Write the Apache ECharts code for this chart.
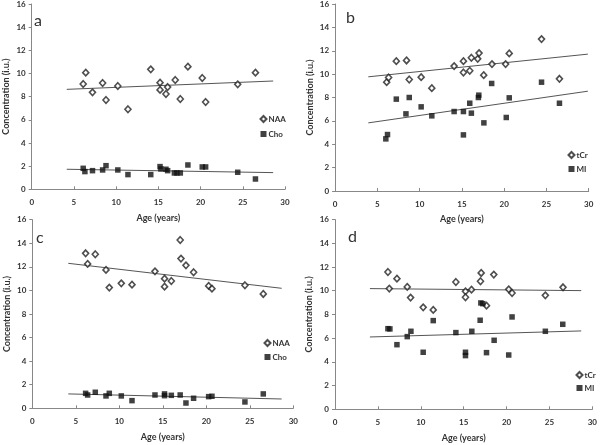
<!DOCTYPE html>
<html>
<head>
<meta charset="utf-8">
<script src="https://cdn.jsdelivr.net/npm/echarts@6/dist/echarts.min.js"></script>
<style>html,body{margin:0;padding:0;background:#fff;}#c{width:600px;height:445px;}</style>
</head>
<body>
<div id="c"></div>
<script>
// ---- Data ----
const xTicks = [0, 5, 10, 15, 20, 25, 30];
const yTicks = [0, 2, 4, 6, 8, 10, 12, 14, 16];

// Panel a
const ageA_NAA = [6.1,6.4,7.2,8.4,8.8,10.2,11.4,14.1,15.2,15.2,15.9,16.1,17.0,17.6,18.5,20.2,20.6,24.4,26.5];
const naaA     = [9.09,10.07,8.37,9.18,7.71,8.92,6.91,10.36,9.21,8.58,8.23,8.83,9.44,7.80,10.59,9.61,7.54,9.06,10.07];
const ageA_Cho = [6.1,6.3,7.2,8.4,8.8,10.2,11.4,14.1,15.2,15.3,15.9,16.1,16.9,17.2,17.6,18.5,20.2,20.6,24.4,26.5];
const choA     = [1.81,1.53,1.61,1.67,2.04,1.67,1.27,1.27,1.96,1.76,1.73,1.61,1.41,1.41,1.41,2.10,1.93,1.93,1.47,0.89];
const trendA_NAA = [[4.15, 8.63], [28.6, 9.35]];
const trendA_Cho = [[4.15, 1.73], [28.6, 1.44]];

// Panel b
const ageB_tCr = [6.1,6.33,7.24,8.45,8.77,10.18,11.44,14.08,15.18,15.18,15.93,16.12,16.87,17.03,17.58,18.56,20.17,20.6,24.42,26.54];
const tcrB     = [9.31,9.71,11.11,11.17,9.54,9.74,8.80,10.69,10.14,11.11,10.29,11.40,11.31,11.80,9.91,10.86,10.86,11.77,13.0,9.60];
const ageB_MI  = [6.0,6.2,7.24,8.38,8.77,10.18,11.44,14.08,15.18,15.18,15.93,16.12,16.95,17.0,17.6,18.52,20.25,20.6,24.42,26.54];
const miB      = [4.46,4.83,7.86,6.60,8.00,7.20,6.43,6.80,6.80,4.80,7.51,6.66,8.00,8.20,5.83,9.20,6.29,7.97,9.31,7.51];
const trendB_tCr = [[3.93, 9.77], [29.9, 11.71]];
const trendB_MI  = [[3.93, 5.83], [29.9, 8.54]];

// Panel c
const ageC_NAA = [6.13,6.36,7.24,8.47,8.85,10.23,11.46,14.1,15.2,15.2,15.98,17.0,17.09,17.66,18.54,20.27,20.65,24.44,26.55];
const naaC     = [13.15,12.25,13.07,11.74,10.24,10.60,10.49,11.62,11.0,10.32,10.80,14.28,12.70,12.13,11.54,10.38,10.15,10.44,9.70];
const ageC_Cho = [6.13,6.36,7.24,8.47,8.85,10.23,11.46,14.1,15.2,15.2,15.98,17.0,17.66,18.54,20.27,20.65,24.44,26.55];
const choC     = [1.27,1.13,1.36,1.05,1.27,1.05,0.65,1.13,1.22,1.07,1.10,1.13,0.45,0.85,0.99,1.02,0.54,1.22];
const trendC_NAA = [[4.14, 12.3], [28.66, 10.18]];
const trendC_Cho = [[4.14, 1.22], [28.66, 0.79]];

// Panel d
const ageD_tCr = [6.17,6.33,7.22,8.42,8.81,10.28,11.45,14.09,15.21,15.21,15.91,16.96,17.04,17.66,18.51,20.25,20.64,24.52,26.58];
const tcrD     = [11.58,10.18,11.02,10.32,9.42,8.60,8.38,10.74,9.95,9.45,10.09,10.80,11.50,8.74,11.36,10.12,9.81,9.61,10.29];
const ageD_MI  = [6.17,6.4,7.22,8.42,8.85,10.28,11.45,14.09,15.21,15.21,15.95,16.92,17.0,17.23,17.66,18.55,20.25,20.64,24.52,26.55];
const miD      = [6.80,6.78,5.45,6.13,6.58,4.81,7.48,6.47,4.81,4.53,6.58,7.51,8.97,8.91,4.78,5.82,4.58,7.79,6.58,7.17];
const trendD_tCr = [[4.07, 10.18], [28.7, 10.01]];
const trendD_MI  = [[4.07, 6.10], [28.7, 6.61]];

const panelLetters = ['a', 'b', 'c', 'd'];
const legendNames = [['NAA', 'Cho'], ['tCr', 'MI'], ['NAA', 'Cho'], ['tCr', 'MI']];

// ---- Layout ----
const FONT = 'Lato, "Liberation Sans", sans-serif';
const grids = [
  {left: 31.7, top: 4,     width: 253.3, height: 185.3},
  {left: 335.1, top: 4,    width: 253.6, height: 187},
  {left: 32.3, top: 219.7, width: 261,   height: 188.6},
  {left: 335,  top: 219.6, width: 257.7, height: 189.7}
];
const letterPos = [[34, 13], [346, 9.5], [36, 230], [348, 228.5]];
const legendPos = [[259.5, 115, 7], [567.5, 151, 6], [263.5, 339, 6], [575.5, 371, 5]];

const zip = (xs, ys) => xs.map((x, i) => [x, ys[i]]);

function xAxis(i) {
  return {
    gridIndex: i, type: 'value', min: xTicks[0], max: xTicks[xTicks.length - 1], interval: 5,
    name: 'Age (years)', nameLocation: 'middle', nameGap: 24,
    nameTextStyle: {fontFamily: FONT, fontSize: 9, fontWeight: 'bold', color: '#333'},
    axisLine: {lineStyle: {color: '#888', width: 1}},
    axisTick: {show: true, inside: true, length: 3, lineStyle: {color: '#888'}},
    axisLabel: {fontFamily: FONT, fontSize: 8, fontWeight: 'bold', color: '#333', margin: 9},
    splitLine: {show: false}
  };
}
function yAxis(i) {
  return {
    gridIndex: i, type: 'value', min: yTicks[0], max: yTicks[yTicks.length - 1], interval: 2,
    name: 'Concentration (i.u.)', nameLocation: 'middle', nameGap: 21,
    nameTextStyle: {fontFamily: FONT, fontSize: 9, fontWeight: 'bold', color: '#333'},
    axisLine: {show: true, lineStyle: {color: '#888', width: 1}},
    axisTick: {show: true, inside: false, length: 3, lineStyle: {color: '#888'}},
    axisLabel: {fontFamily: FONT, fontSize: 8, fontWeight: 'bold', color: '#333', margin: 6},
    splitLine: {show: false}
  };
}

const openStyle = {symbol: 'diamond', symbolSize: [6, 6.5], itemStyle: {color: '#fff', borderColor: '#222', borderWidth: 1.6}};
const fillStyle = {symbol: 'rect', symbolSize: 5.5, itemStyle: {color: '#111', borderWidth: 0}};

function scatter(name, i, data, style) {
  return Object.assign({type: 'scatter', name, xAxisIndex: i, yAxisIndex: i, data, z: 3}, style);
}
function trend(i, data) {
  return {type: 'line', xAxisIndex: i, yAxisIndex: i, data, symbol: 'none', silent: true, z: 2,
    lineStyle: {color: '#555', width: 1}};
}

const series = [
  scatter('NAA', 0, zip(ageA_NAA, naaA), openStyle),
  scatter('Cho', 0, zip(ageA_Cho, choA), fillStyle),
  trend(0, trendA_NAA), trend(0, trendA_Cho),
  scatter('tCr', 1, zip(ageB_tCr, tcrB), openStyle),
  scatter('MI', 1, zip(ageB_MI, miB), fillStyle),
  trend(1, trendB_tCr), trend(1, trendB_MI),
  scatter('NAA', 2, zip(ageC_NAA, naaC), openStyle),
  scatter('Cho', 2, zip(ageC_Cho, choC), fillStyle),
  trend(2, trendC_NAA), trend(2, trendC_Cho),
  scatter('tCr', 3, zip(ageD_tCr, tcrD), openStyle),
  scatter('MI', 3, zip(ageD_MI, miD), fillStyle),
  trend(3, trendD_tCr), trend(3, trendD_MI)
];

const option = {
  animation: false,
  backgroundColor: '#fff',
  title: panelLetters.map((t, i) => ({
    text: t, left: letterPos[i][0], top: letterPos[i][1], padding: 0,
    textStyle: {fontFamily: FONT, fontSize: 16, fontWeight: 'normal', color: '#333'}
  })),
  legend: legendNames.map((names, i) => ({
    data: names, orient: 'vertical', left: legendPos[i][0], top: legendPos[i][1],
    itemGap: legendPos[i][2], itemWidth: 6, itemHeight: 6, padding: 0,
    selectedMode: false,
    textStyle: {fontFamily: FONT, fontSize: 8, fontWeight: 'bold', color: '#333', padding: [0, 0, 0, -3]}
  })),
  grid: grids,
  xAxis: [0, 1, 2, 3].map(xAxis),
  yAxis: [0, 1, 2, 3].map(yAxis),
  series
};

const chart = echarts.init(document.getElementById('c'), null, {renderer: 'canvas'});
chart.setOption(option);
</script>
</body>
</html>
